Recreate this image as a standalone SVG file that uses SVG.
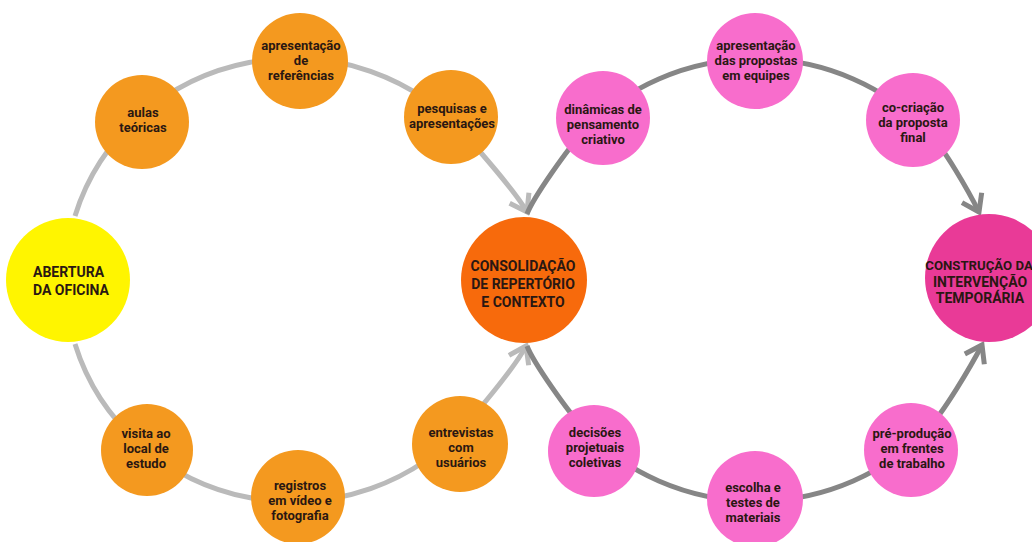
<svg xmlns="http://www.w3.org/2000/svg" width="1032" height="542" viewBox="0 0 1032 542">
<style>
.ring-l{fill:none;stroke:#bababa;stroke-width:5}
.ring-r{fill:none;stroke:#868686;stroke-width:5}
.orange{fill:#f4991f}
.pink{fill:#f86dcc}
.t{font-family:Roboto,"DejaVu Sans",sans-serif;font-weight:bold;font-size:13px;fill:#2a1712;text-anchor:middle}
.T{font-family:Roboto,"DejaVu Sans",sans-serif;font-weight:bold;font-size:14px;fill:#2a1712;text-anchor:middle}
</style>
<defs>
<marker id="al" markerUnits="userSpaceOnUse" orient="auto" refX="0" refY="0" markerWidth="40" markerHeight="40" viewBox="-20 -20 40 40" overflow="visible">
<path d="M-16,-11 L0,0 L-16,11" fill="none" stroke="#bababa" stroke-width="5"/>
</marker>
<marker id="ar" markerUnits="userSpaceOnUse" orient="auto" refX="0" refY="0" markerWidth="40" markerHeight="40" viewBox="-20 -20 40 40" overflow="visible">
<path d="M-16,-11 L0,0 L-16,11" fill="none" stroke="#868686" stroke-width="5"/>
</marker>
</defs>
<rect width="1032" height="542" fill="#ffffff"/>
<g id="connectors">
<path class="ring-l" d="M75,216 A228 222 0 0 1 470,140 C486,159 516,192 527,212" marker-end="url(#al)"/>
<path class="ring-l" d="M75,344 A228 222 0 0 0 470,420 C486,401 516,366 526,346" marker-end="url(#al)"/>
<path class="ring-r" d="M527,214 C533,198 568,148 585,130 A233 222 0 0 1 927,130 C944,148 969,192 979,212" marker-end="url(#ar)"/>
<path class="ring-r" d="M527,346 C533,362 568,412 585,430 A233 222 0 0 0 927,430 C944,412 971,366 982,345" marker-end="url(#ar)"/>
</g>
<g id="abertura">
<circle cx="68" cy="280" r="62" fill="#fff500"/>
<text class="T" style="text-anchor:start" x="33"><tspan x="33" y="277">ABERTURA</tspan><tspan x="33" y="295">DA OFICINA</tspan></text>
</g>
<g id="aulas">
<circle class="orange" cx="142" cy="122" r="47"/>
<text class="t"><tspan x="143" y="117">aulas</tspan><tspan x="143" y="132">teóricas</tspan></text>
</g>
<g id="referencias">
<circle class="orange" cx="300" cy="61" r="48"/>
<text class="t"><tspan x="301" y="50">apresentação</tspan><tspan x="301" y="65">de</tspan><tspan x="301" y="80">referências</tspan></text>
</g>
<g id="pesquisas">
<circle class="orange" cx="451" cy="117" r="47"/>
<text class="t"><tspan x="452" y="113">pesquisas e</tspan><tspan x="452" y="128">apresentações</tspan></text>
</g>
<g id="visita">
<circle class="orange" cx="147" cy="450" r="46"/>
<text class="t"><tspan x="146" y="438">visita ao</tspan><tspan x="146" y="453">local de</tspan><tspan x="146" y="468">estudo</tspan></text>
</g>
<g id="registros">
<circle class="orange" cx="298" cy="497" r="47"/>
<text class="t"><tspan x="300" y="490">registros</tspan><tspan x="300" y="505">em vídeo e</tspan><tspan x="300" y="520">fotografia</tspan></text>
</g>
<g id="entrevistas">
<circle class="orange" cx="460" cy="444" r="48"/>
<text class="t"><tspan x="461" y="437">entrevistas</tspan><tspan x="461" y="452">com</tspan><tspan x="461" y="467">usuários</tspan></text>
</g>
<g id="consolidacao">
<circle cx="524" cy="280" r="63" fill="#f76a0c"/>
<text class="T"><tspan x="523" y="271">CONSOLIDAÇÃO</tspan><tspan x="523" y="289">DE REPERTÓRIO</tspan><tspan x="523" y="307">E CONTEXTO</tspan></text>
</g>
<g id="dinamicas">
<circle class="pink" cx="603" cy="118" r="47"/>
<text class="t"><tspan x="603" y="114">dinâmicas de</tspan><tspan x="603" y="129">pensamento</tspan><tspan x="603" y="144">criativo</tspan></text>
</g>
<g id="propostas">
<circle class="pink" cx="755" cy="61" r="48"/>
<text class="t"><tspan x="756" y="50">apresentação</tspan><tspan x="756" y="65">das propostas</tspan><tspan x="756" y="80">em equipes</tspan></text>
</g>
<g id="cocriacao">
<circle class="pink" cx="913" cy="120" r="47"/>
<text class="t"><tspan x="913" y="112">co-criação</tspan><tspan x="913" y="127">da proposta</tspan><tspan x="913" y="142">final</tspan></text>
</g>
<g id="decisoes">
<circle class="pink" cx="594" cy="451" r="46"/>
<text class="t"><tspan x="595" y="437">decisões</tspan><tspan x="595" y="452">projetuais</tspan><tspan x="595" y="467">coletivas</tspan></text>
</g>
<g id="escolha">
<circle class="pink" cx="755" cy="499" r="48"/>
<text class="t"><tspan x="753" y="492">escolha e</tspan><tspan x="753" y="507">testes de</tspan><tspan x="753" y="522">materiais</tspan></text>
</g>
<g id="preproducao">
<circle class="pink" cx="911" cy="450" r="47"/>
<text class="t"><tspan x="912" y="438">pré-produção</tspan><tspan x="912" y="453">em frentes</tspan><tspan x="912" y="468">de trabalho</tspan></text>
</g>
<g id="construcao">
<circle cx="989" cy="278" r="64" fill="#e93a97"/>
<text class="T"><tspan x="979" y="270" style="font-size:13.2px">CONSTRUÇÃO DA</tspan><tspan x="980" y="287">INTERVENÇÃO</tspan><tspan x="980" y="303">TEMPORÁRIA</tspan></text>
</g>
</svg>
